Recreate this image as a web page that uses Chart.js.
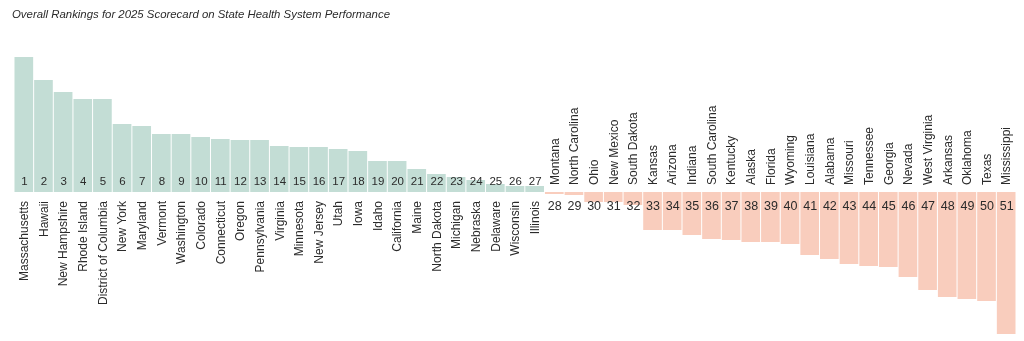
<!DOCTYPE html>
<html>
<head>
<meta charset="utf-8">
<script src="https://cdn.jsdelivr.net/npm/chart.js@4.4.0/dist/chart.umd.min.js"></script>
<style>
  html, body { margin: 0; padding: 0; background: #fff; }
  #wrap { width: 1024px; height: 341px; }
</style>
</head>
<body>
<div id="wrap"><canvas id="rankChart" width="1024" height="341"></canvas></div>
<script>
const states = ['Massachusetts', 'Hawaii', 'New Hampshire', 'Rhode Island', 'District of Columbia', 'New York',
    'Maryland', 'Vermont', 'Washington', 'Colorado', 'Connecticut', 'Oregon', 'Pennsylvania', 'Virginia',
    'Minnesota', 'New Jersey', 'Utah', 'Iowa', 'Idaho', 'California', 'Maine', 'North Dakota', 'Michigan',
    'Nebraska', 'Delaware', 'Wisconsin', 'Illinois', 'Montana', 'North Carolina', 'Ohio', 'New Mexico',
    'South Dakota', 'Kansas', 'Arizona', 'Indiana', 'South Carolina', 'Kentucky', 'Alaska', 'Florida',
    'Wyoming', 'Louisiana', 'Alabama', 'Missouri', 'Tennessee', 'Georgia', 'Nevada', 'West Virginia',
    'Arkansas', 'Oklahoma', 'Texas', 'Mississippi'];

const ranks = [1, 2, 3, 4, 5, 6, 7, 8, 9, 10, 11, 12, 13, 14, 15, 16, 17, 18, 19, 20, 21, 22, 23, 24, 25, 26,
    27, 28, 29, 30, 31, 32, 33, 34, 35, 36, 37, 38, 39, 40, 41, 42, 43, 44, 45, 46, 47, 48, 49, 50, 51];

// scores relative to the middle of the pack
const scores = [135, 112, 100, 93, 93, 68, 66, 58, 58, 55, 53, 52, 52, 46, 45, 45, 43, 41, 31, 31, 23, 18, 15,
    12, 8, 6, 6, -2, -3, -10, -10, -13, -38, -38, -43, -47, -48, -50, -50, -52, -63, -67, -72, -74, -75,
    -85, -98, -105, -107, -109, -142];

const colors = scores.map(v => v >= 0 ? '#c3ddd5' : '#f9cdbd');

const FONT = '"Liberation Sans", Arial, sans-serif';

// draws rank numbers inside the bars, the rotated state names and the title
const barLabels = {
    id: 'barLabels',
    afterDatasetsDraw(chart) {
        const ctx = chart.ctx;
        const x = chart.scales.x;
        const y0 = chart.scales.y.getPixelForValue(0);
        ctx.save();
        ctx.fillStyle = '#2b2b2b';

        ctx.font = 'italic 11.4px ' + FONT;
        ctx.textAlign = 'left';
        ctx.textBaseline = 'middle';
        ctx.fillText('Overall Rankings for 2025 Scorecard on State Health System Performance', 12, 15);

        states.forEach((name, i) => {
            const px = x.getPixelForValue(i);
            const up = scores[i] >= 0;
            // rank number
            ctx.font = (up ? '11.5px ' : '12.5px ') + FONT;
            ctx.textAlign = 'center';
            ctx.textBaseline = 'middle';
            ctx.fillText(String(ranks[i]), px + 0.5, up ? y0 - 10 : y0 + 15);
            // state name
            ctx.font = '12px ' + FONT;
            ctx.save();
            ctx.translate(px + 1, up ? y0 + 9 : y0 - 7);
            ctx.rotate(-Math.PI / 2);
            ctx.textAlign = up ? 'right' : 'left';
            ctx.fillText(name, 0, 0);
            ctx.restore();
        });
        ctx.restore();
    }
};

new Chart(document.getElementById('rankChart').getContext('2d'), {
    type: 'bar',
    data: {
        labels: states,
        datasets: [{
            label: 'Overall ranking',
            data: scores,
            backgroundColor: colors,
            borderWidth: 0,
            barPercentage: 0.95,
            categoryPercentage: 1
        }]
    },
    options: {
        responsive: false,
        animation: false,
        layout: {
            padding: { left: 14, right: 8, top: 57, bottom: 7 }
        },
        scales: {
            x: { display: false },
            y: { display: false, min: -142, max: 135 }
        },
        plugins: {
            legend: { display: false },
            tooltip: { enabled: false },
            title: { display: false }
        }
    },
    plugins: [barLabels]
});
</script>
</body>
</html>
